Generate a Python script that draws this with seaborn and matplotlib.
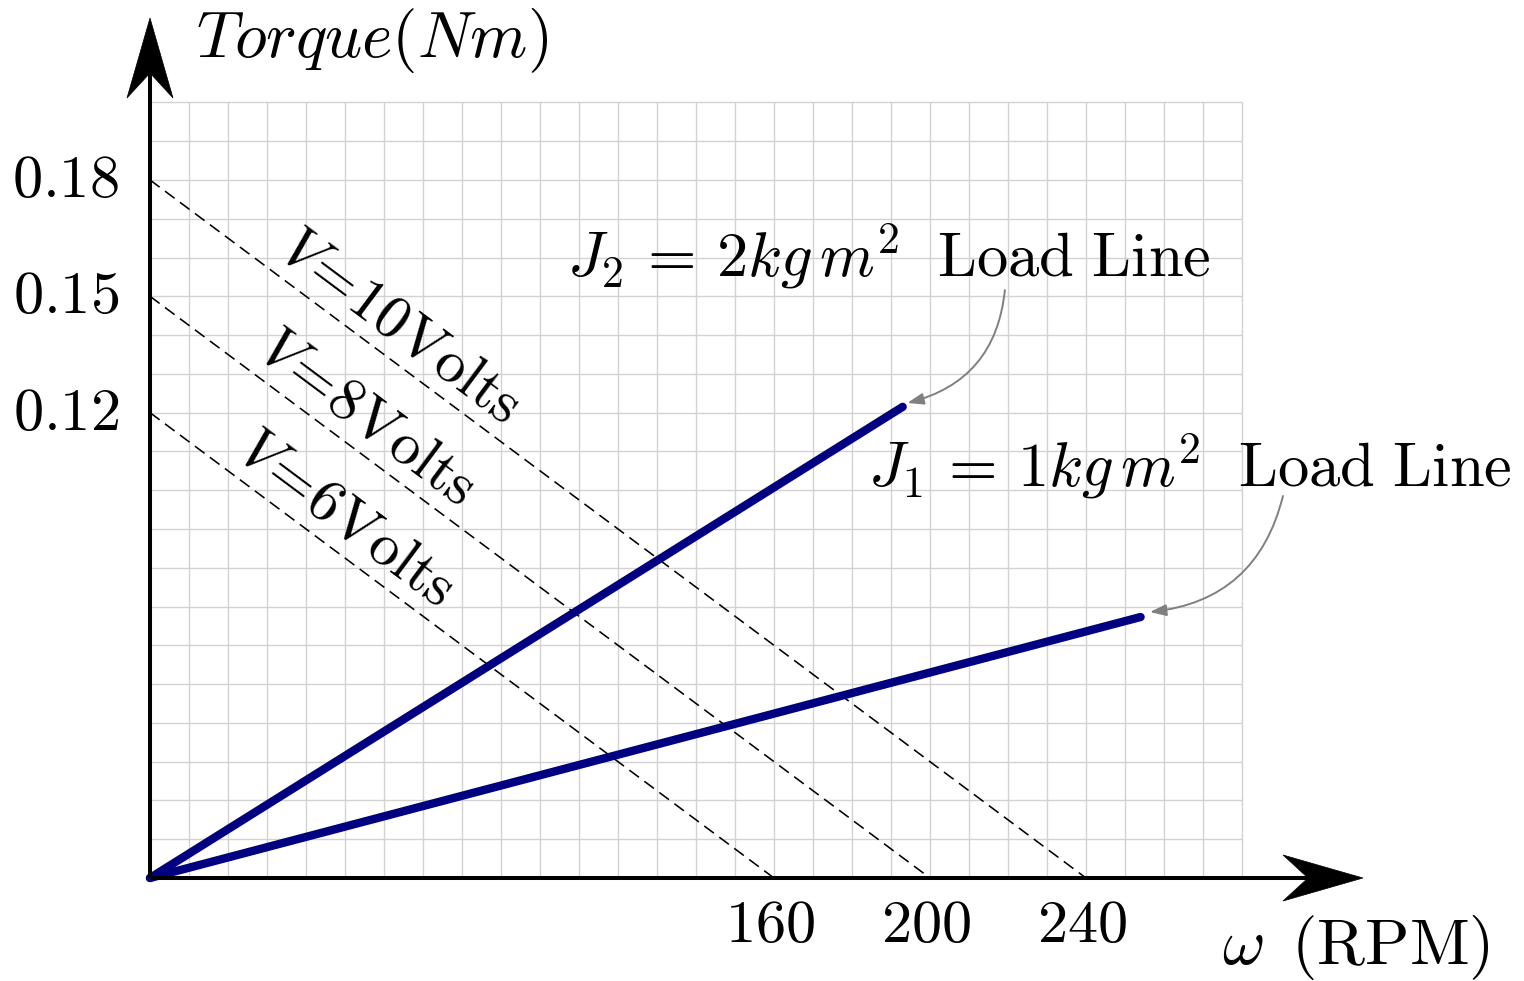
import numpy as np
import pandas as pd
import matplotlib
matplotlib.use("Agg")
import matplotlib.pyplot as plt
from matplotlib.patches import Polygon
import seaborn as sns

# Motor torque-speed lines for three supply voltages
voltages = [10, 8, 6]
stall_torque = [0.18, 0.15, 0.12]      # Nm at zero speed
no_load_speed = [240, 200, 160]        # RPM at zero torque

# Load lines (end points of each drawn segment)
load_inertia = [1, 2]
load_end_speed = [254, 193]
load_end_torque = [0.0673, 0.1215]

x_ticks = [160, 200, 240]
y_ticks = [0.12, 0.15, 0.18]

sns.set_style("white")
plt.rcParams["mathtext.fontset"] = "cm"
plt.rcParams["font.family"] = ["DejaVu Serif"]
plt.rcParams["text.color"] = "black"

W, H, DPI = 1524, 981, 100
fig = plt.figure(figsize=(W / DPI, H / DPI), dpi=DPI)
ax = fig.add_axes([0, 0, 1, 1])
ax.set_axis_off()

# pixel scale of the drawing: 3.9 px per RPM, 3878 px per Nm, origin at (150, 878)
sx, sy = 3.9, 3878.0
ox, oy = 150, 878
ax.set_xlim(-ox / sx, (W - ox) / sx)
ax.set_ylim(-(H - oy) / sy, oy / sy)

grid_x_max, grid_y_max = 280, 0.2
gx = np.arange(0, grid_x_max + 1e-9, 10)
gy = np.arange(0, grid_y_max + 1e-9, 0.01)
ax.vlines(gx, 0, grid_y_max, color="#d2d2d2", lw=1.0, zorder=1)
ax.hlines(gy, 0, grid_x_max, color="#d2d2d2", lw=1.0, zorder=1)

FS_TICK = 43.5
FS = 45

# voltage lines
for v, t0, w0 in zip(voltages, stall_torque, no_load_speed):
    sns.lineplot(x=[0, w0], y=[t0, 0], ax=ax, color="black", lw=1.15,
                 linestyle=(0, (7.5, 4.2)), sort=False, zorder=2)
    p0 = ax.transData.transform((0, t0))
    p1 = ax.transData.transform((w0, 0))
    ang = np.degrees(np.arctan2(p1[1] - p0[1], p1[0] - p0[0]))
    xs = 0.135 * w0
    ys = t0 * (1 - xs / w0) + 0.0052
    ax.text(xs, ys, r"$V\!=\!%d\mathrm{Volts}$" % v, fontsize=FS_TICK,
            rotation=ang, rotation_mode="anchor", ha="left", va="baseline",
            zorder=4)

# load lines
for ws, ts in zip(load_end_speed, load_end_torque):
    sns.lineplot(x=[0, ws], y=[0, ts], ax=ax, color="#000080", lw=6.0,
                 solid_capstyle="round", sort=False, zorder=5)

# axes with arrow heads
def arrow_head(tip, direction, length=80, half=23, notch=55):
    tx, ty = ax.transData.transform(tip)
    dx, dy = direction
    nx, ny = -dy, dx
    pts = [(tx, ty),
           (tx - dx * length + nx * half, ty - dy * length + ny * half),
           (tx - dx * notch, ty - dy * notch),
           (tx - dx * length - nx * half, ty - dy * length - ny * half)]
    pts = ax.transData.inverted().transform(pts)
    ax.add_patch(Polygon(pts, closed=True, facecolor="black", edgecolor="black",
                         lw=0.5, zorder=6, clip_on=False))

x_tip = (1363 - ox) / sx
y_tip = (oy - 18) / sy
ax.plot([0, x_tip - 55 / sx], [0, 0], color="black", lw=2.9, zorder=6,
        solid_capstyle="butt")
ax.plot([0, 0], [0, y_tip - 55 / sy], color="black", lw=2.9, zorder=6,
        solid_capstyle="butt")
arrow_head((x_tip, 0), (1, 0))
arrow_head((0, y_tip), (0, 1))

# tick labels
for t in y_ticks:
    ax.text(-8.0, t, r"$%.2f$" % t, fontsize=FS_TICK, ha="right", va="center")
for w in x_ticks:
    ax.text(w - 1, -0.0047, r"$%d$" % w, fontsize=FS_TICK, ha="center", va="top")

# axis titles
ax.text(11.8, 0.2117, r"$Torque(Nm)$", fontsize=47, ha="left", va="baseline")
ax.text(274.9, -0.0222, r"$\omega\ \,\mathrm{(RPM)}$", fontsize=47,
        ha="left", va="baseline")

# load line labels with curved pointers
label_pos = [(184.0, 0.1008), (107.0, 0.1550)]
pointer_start = [(290.5, 0.0985), (219.2, 0.1516)]
pointer_end = [(256.4, 0.0686), (194.2, 0.1225)]
for j, (lx, ly), ps, pe in zip(load_inertia, label_pos, pointer_start, pointer_end):
    ax.text(lx, ly, r"$J_%d\,=\,%dkg\,m^2\ \;\mathrm{Load\ Line}$" % (j, j),
            fontsize=FS, ha="left", va="baseline", zorder=7)
    ax.annotate("", xy=pe, xytext=ps,
                arrowprops=dict(arrowstyle="-|>,head_length=0.7,head_width=0.25",
                                connectionstyle="arc3,rad=-0.35", color="#808080",
                                lw=1.4, shrinkA=0, shrinkB=0, mutation_scale=14))

fig.savefig("out.png", dpi=DPI, facecolor="white")
